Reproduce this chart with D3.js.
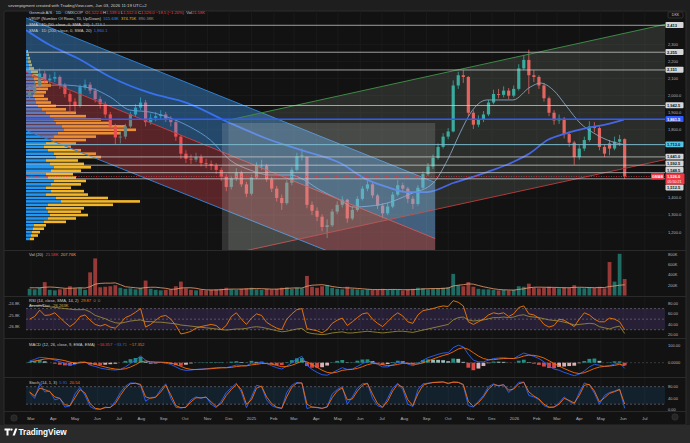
<!DOCTYPE html>
<html>
<head>
<meta charset="utf-8">
<script src="https://cdn.jsdelivr.net/npm/d3@7"></script>
<style>
  body { margin: 0; background: #1e1e1e; }
  svg { display: block; font-family: "Liberation Sans", Arial, sans-serif; }
  text { white-space: pre; }
</style>
</head>
<body>
<div id="chart"></div>
<script>
// weekly bars, Monday 2024-02-26 .. Monday 2026-06-01 (119 weeks)
const weeks = d3.utcMonday.range(new Date(Date.UTC(2024, 1, 26)), new Date(Date.UTC(2026, 5, 2)));

const opens = [2000,2020,2060,2130,2090,2100,2110,2060,2010,1965,
  1940,2050,2065,2030,1980,1950,1890,1820,1755,1760,
  1820,1890,1930,1960,1845,1870,1880,1890,1865,1845,
  1760,1660,1630,1625,1640,1605,1600,1590,1565,1525,
  1465,1515,1550,1480,1425,1520,1590,1590,1510,1455,
  1400,1370,1490,1565,1645,1640,1360,1325,1290,1230,
  1240,1320,1360,1390,1280,1330,1395,1455,1480,1415,
  1355,1310,1350,1420,1475,1455,1395,1365,1460,1540,
  1585,1635,1700,1760,1790,2060,2120,2110,1900,1830,
  1860,1890,1960,2010,2005,2030,2000,2040,2160,2210,
  2120,2110,2060,1985,1900,1855,1865,1775,1725,1640,
  1690,1740,1820,1810,1700,1720,1690,1730,1745];
const highs = [2060,2090,2160,2145,2125,2140,2120,2075,2025,1985,
  2065,2095,2080,2045,1995,1965,1905,1835,1790,1835,
  1905,1950,1990,1975,1895,1905,1915,1905,1880,1855,
  1770,1680,1655,1665,1655,1630,1620,1605,1580,1540,
  1530,1575,1560,1495,1535,1610,1625,1600,1525,1470,
  1420,1505,1580,1665,1690,1645,1380,1345,1305,1275,
  1335,1380,1410,1395,1350,1410,1470,1500,1490,1425,
  1370,1370,1435,1505,1490,1465,1410,1475,1555,1605,
  1655,1720,1780,1810,2090,2140,2150,2115,1915,1885,
  1910,1975,2035,2040,2055,2045,2060,2185,2240,2270,
  2150,2120,2075,1995,1915,1890,1875,1790,1735,1710,
  1760,1850,1845,1820,1715,1740,1760,1770,1750];
const lows = [1975,2005,2045,2070,2065,2080,2040,1990,1900,1910,
  1930,2035,2010,1960,1925,1870,1800,1715,1720,1745,
  1810,1875,1915,1820,1830,1850,1860,1845,1820,1735,
  1630,1605,1600,1610,1585,1575,1565,1540,1500,1440,
  1450,1500,1465,1405,1415,1510,1565,1495,1435,1380,
  1330,1360,1475,1555,1620,1340,1300,1265,1205,1165,
  1230,1305,1345,1255,1270,1320,1385,1440,1400,1335,
  1285,1300,1340,1410,1435,1370,1335,1355,1450,1530,
  1570,1625,1690,1745,1785,2040,2075,1880,1805,1815,
  1845,1880,1950,1985,1990,1980,1990,2030,2150,2010,
  2080,2040,1965,1880,1830,1835,1750,1700,1595,1625,
  1675,1730,1785,1680,1640,1650,1680,1705,1512];
const closes = [2020,2060,2130,2090,2100,2110,2060,2010,1965,1940,
  2050,2065,2030,1980,1950,1890,1820,1755,1760,1820,
  1890,1930,1960,1845,1870,1880,1890,1865,1845,1760,
  1660,1630,1625,1640,1605,1600,1590,1565,1525,1465,
  1515,1550,1480,1425,1520,1590,1590,1510,1455,1400,
  1370,1490,1565,1645,1650,1360,1325,1290,1230,1240,
  1320,1360,1390,1280,1330,1395,1455,1480,1415,1355,
  1310,1350,1420,1475,1455,1395,1365,1460,1540,1585,
  1635,1700,1760,1790,2060,2120,2110,1900,1830,1860,
  1890,1960,2010,2005,2030,2000,2040,2160,2210,2120,
  2110,2060,1985,1900,1855,1865,1775,1725,1640,1690,
  1740,1820,1810,1700,1660,1690,1730,1745,1526];

// volume in K
const volumes = [130,120,150,260,110,100,120,130,180,140,
  150,110,450,720,160,170,180,200,150,130,
  140,120,150,290,130,110,100,110,120,180,
  270,140,110,100,110,100,110,120,130,150,
  120,110,130,140,150,120,110,130,120,130,
  150,160,130,150,140,380,170,150,180,200,
  150,130,120,170,130,120,110,120,110,120,
  130,110,120,110,100,120,130,150,140,120,
  130,140,150,160,420,200,180,260,170,130,
  120,120,110,100,110,100,110,180,170,230,
  150,140,150,170,150,140,160,150,200,150,
  140,160,150,170,140,650,270,810,320];
const volMA = [150,150,150,160,165,160,150,140,140,145,
  150,145,170,220,235,240,240,245,210,170,
  160,150,140,155,160,160,150,140,120,125,
  145,150,150,140,120,110,108,108,112,120,
  125,125,125,128,132,135,132,128,124,124,
  130,138,145,148,145,180,200,205,210,195,
  175,160,150,148,145,138,130,122,116,115,
  115,116,118,117,114,112,115,120,128,132,
  135,135,138,145,185,200,210,225,220,195,
  170,150,130,118,110,108,105,118,130,150,
  160,162,160,158,158,155,150,152,158,160,
  158,155,152,155,155,175,185,200,208];

const rsi = [50,55,67,57,58,62,53,44,36,43,
  55,58,48,40,37,40,35,33,42,53,
  57,63,70,35,40,48,55,57,50,38,
  22,24,27,33,36,38,40,38,30,38,
  55,62,50,40,52,60,57,44,38,33,
  30,50,60,68,70,32,30,28,24,30,
  42,48,52,38,45,53,60,62,50,42,
  36,45,55,62,56,45,42,58,66,68,
  70,73,75,74,85,82,75,45,40,45,
  50,58,62,60,62,55,60,72,75,60,
  58,52,40,35,38,50,48,42,36,50,
  62,58,50,45,45,52,50,45,29.87];
// Accum/Dist in K (left scale)
const accDist = [-24.9,-24.95,-24.9,-25.0,-25.05,-25.1,-25.15,-25.2,-25.25,-25.3,
  -25.3,-25.3,-25.5,-25.8,-25.95,-26.1,-26.3,-26.45,-26.5,-26.4,
  -26.3,-26.25,-26.2,-26.35,-26.35,-26.4,-26.4,-26.45,-26.5,-26.55,
  -26.65,-26.7,-26.75,-26.8,-26.85,-26.9,-26.95,-27.0,-27.05,-27.1,
  -27.05,-27.0,-27.0,-26.95,-26.85,-26.8,-26.85,-26.95,-27.05,-27.15,
  -27.25,-27.2,-27.1,-27.0,-26.95,-27.3,-27.4,-27.45,-27.5,-27.45,
  -27.35,-27.3,-27.25,-27.35,-27.35,-27.3,-27.25,-27.2,-27.25,-27.3,
  -27.35,-27.3,-27.25,-27.2,-27.2,-27.25,-27.3,-27.2,-27.1,-27.0,
  -26.9,-26.8,-26.7,-26.6,-26.2,-26.0,-25.95,-26.2,-26.3,-26.25,
  -26.2,-26.1,-26.0,-26.0,-25.95,-26.0,-25.95,-25.8,-25.75,-25.9,
  -25.95,-26.0,-26.1,-26.2,-26.25,-26.3,-26.4,-26.5,-26.65,-26.6,
  -26.55,-26.5,-26.55,-26.8,-26.9,-27.0,-26.85,-26.75,-27.4];

const macd = [10,20,32,30,24,16,6,-4,-14,-10,
  4,5,-15,-22,-32,-38,-42,-44,-40,-25,
  -5,16,40,15,-2,0,2,-2,-10,-25,
  -40,-46,-44,-40,-38,-36,-33,-30,-28,-30,
  -22,-14,-16,-18,-2,-5,2,-5,-18,-30,
  -38,-20,0,22,38,-15,-40,-58,-72,-75,
  -60,-45,-30,-40,-38,-22,-5,8,5,-10,
  -25,-25,-12,2,5,-8,-18,-5,15,30,
  40,50,58,60,90,105,95,50,15,5,
  5,15,25,28,30,25,25,42,58,48,
  38,25,5,-20,-38,-45,-58,-68,-78,-68,
  -50,-25,-10,-15,-22,-18,-8,-2,-33.71];
const signal = [5,10,16,22,24,22,18,12,4,-2,
  -1,2,-3,-10,-18,-26,-33,-38,-40,-36,
  -26,-12,5,10,6,4,3,2,-2,-10,
  -22,-34,-40,-41,-40,-38,-36,-33,-31,-30,
  -28,-23,-20,-19,-13,-10,-5,-5,-9,-16,
  -24,-23,-15,-4,10,5,-10,-28,-45,-58,
  -62,-56,-46,-42,-40,-34,-24,-12,-5,-6,
  -12,-17,-16,-10,-4,-4,-8,-8,-1,10,
  22,33,43,51,65,82,90,80,60,40,
  25,18,18,22,25,26,25,30,40,45,
  44,38,28,12,-5,-20,-35,-48,-60,-65,
  -60,-48,-35,-26,-22,-20,-16,-10,-17.35];

const stochK = [60,40,90,62,65,35,40,10,14,55,
  78,50,12,3,2,10,8,30,60,82,
  93,92,85,30,43,44,70,90,40,9,
  7,10,35,45,40,45,20,8,30,60,
  76,92,62,8,45,85,80,35,15,8,
  5,60,85,95,92,5,10,8,5,12,
  55,70,80,20,45,75,90,92,40,15,
  8,40,75,92,70,20,12,70,90,92,
  95,96,97,90,97,95,85,15,10,30,
  50,80,90,82,88,60,75,95,96,50,
  45,35,15,8,10,25,45,30,20,60,
  93,86,58,20,50,60,65,72,5.91];
const stochD = [62,48,75,70,63,45,40,18,15,42,
  70,58,22,6,3,8,9,22,50,75,
  90,92,88,45,40,44,62,85,52,15,
  8,9,28,42,42,44,28,12,22,50,
  70,88,70,20,35,75,82,45,22,10,
  6,45,78,92,93,20,10,9,6,10,
  42,65,76,35,38,65,85,91,55,22,
  10,30,65,88,78,35,15,55,85,91,
  94,95,96,92,95,95,88,30,12,25,
  45,72,87,84,86,68,72,90,95,62,
  48,38,20,10,10,20,40,33,24,50,
  85,88,65,28,42,57,63,70,20.54];

// moving averages read at dates
const sma50Dates = ["2024-02-23","2024-04-10","2024-05-22","2024-06-19","2024-07-16","2024-08-13","2024-09-10",
  "2024-10-08","2024-11-05","2024-12-02","2024-12-30","2025-01-27","2025-02-24","2025-03-10","2025-04-06",
  "2025-05-04","2025-05-22","2025-06-15","2025-07-08","2025-08-09","2025-09-10","2025-09-30","2025-10-18",
  "2025-11-01","2025-11-24","2025-12-30","2026-01-23","2026-02-06","2026-02-24","2026-03-15","2026-04-02",
  "2026-04-21","2026-05-10","2026-06-02"];
const sma50 = [2045,2063,2045,1992,1916,1904,1869,1816,1740,1623,1564,1535,1535,1517,1447,
  1388,1347,1353,1370,1423,1487,1622,1786,1898,1975,1975,2051,2074,2033,1934,1840,1781,1740,1713];
const sma200Dates = ["2024-02-23","2024-03-27","2024-05-04","2024-06-19","2024-08-13","2024-10-04","2024-12-02",
  "2025-01-20","2025-03-10","2025-05-04","2025-06-11","2025-07-08","2025-08-05","2025-09-02","2025-10-08",
  "2025-11-24","2025-12-30","2026-01-23","2026-02-16","2026-03-15","2026-04-12","2026-05-10","2026-06-02"];
const sma200 = [2385,2297,2221,2110,2016,1957,1840,1752,1682,1605,1506,1465,1435,1435,1488,
  1552,1611,1664,1740,1781,1811,1834,1860];

// volume profile: 20 DKK rows from 1150, up / down volume (K)
const profUp = [40,50,60,70,80,180,220,240,220,200,220,350,300,200,250,200,250,280,220,200,
  250,280,240,200,300,280,220,180,200,250,280,320,380,360,300,280,240,200,160,120,
  100,90,70,80,90,100,90,80,60,50,30,30,20,20,10,10];
const profDown = [40,70,80,110,120,220,280,380,330,380,650,790,520,420,330,250,300,320,280,270,
  300,370,340,320,450,420,330,270,300,350,420,630,720,640,550,470,360,300,240,180,
  150,130,110,120,130,150,130,120,90,70,50,30,30,20,20,10];

// horizontal levels
const levels = [2413, 2255, 2151, 1942.5, 1861.5, 1713, 1641, 1592.5, 1548.5, 1512.5];
const lastPrice = 1526;

// channels [date, price]
const blueTop = [["2024-02-23", 2456], ["2025-09-13", 1491]];
const redEdge = [["2024-02-23", 2138], ["2025-09-13", 1162]];
const blueBottom = [["2024-02-23", 1796], ["2025-09-13", 837]];
const greenTop = [["2024-11-30", 1857], ["2026-07-29", 2418]];
const greenBottom = [["2024-11-30", 1069], ["2026-07-29", 1625]];
const boxDates = ["2024-11-21", "2025-09-13"];
const boxPrices = [1840, 1000];

const priceTicks = [2300, 2200, 2100, 2000, 1900, 1800, 1400, 1300, 1200];

// ---------- layout ----------
const W = 690, H = 443;
const plotL = 26, plotR = 665;
const pane = {price: [11, 250], vol: [251, 296], rsi: [297, 338], macd: [339, 377], stoch: [378, 411]};

const svg = d3.select("#chart").append("svg").attr("width", W).attr("height", H);
const parse = d3.utcParse("%Y-%m-%d");

svg.append("rect").attr("width", W).attr("height", H).attr("fill", "#1e1e1e");
svg.append("rect").attr("y", 425).attr("width", W).attr("height", H - 425).attr("fill", "#2a2a2a");
svg.append("rect").attr("x", 4).attr("y", 11).attr("width", 682).attr("height", 414)
  .attr("fill", "#121212").attr("stroke", "#2c2c2c").attr("rx", 2);

svg.append("text").attr("x", 8).attr("y", 7).attr("font-size", 4.3).attr("fill", "#cfcfcf")
  .text("sevenpigment created with TradingView.com, Jun 03, 2026 11:19 UTC+2");

const x = d3.scaleUtc()
  .domain([new Date(Date.UTC(2024, 1, 23)), new Date(Date.UTC(2026, 6, 29))])
  .range([plotL, plotR]);
const xMid = i => x(d3.utcDay.offset(weeks[i], 2));

const yPrice = d3.scaleLinear().domain([1200, 2300]).range([232.1, 44.55]);
const yVol = d3.scaleLinear().domain([0, 800]).range([295.5, 254.3]);
const yRsi = d3.scaleLinear().domain([20, 80]).range([335, 303.3]);
const yAD = d3.scaleLinear().domain([-26.8, -24.8]).range([326.7, 304]);
const yMacd = d3.scaleLinear().domain([0, 100]).range([362.7, 346]);
const yStoch = d3.scaleLinear().domain([0, 80]).range([410, 386.7]);

// clips
const defs = svg.append("defs");
Object.entries(pane).forEach(([k, [t, b]]) => {
  defs.append("clipPath").attr("id", "clip-" + k).append("rect")
    .attr("x", plotL).attr("y", t).attr("width", plotR - plotL).attr("height", b - t);
});
const layer = k => svg.append("g").attr("clip-path", `url(#clip-${k})`);

// grid
const months = d3.utcMonth.range(new Date(Date.UTC(2024, 2, 1)), new Date(Date.UTC(2026, 6, 2)));
const grid = svg.append("g").attr("stroke", "#1a1a1a").attr("stroke-width", 1);
months.forEach(m => grid.append("line").attr("x1", x(m)).attr("x2", x(m)).attr("y1", 11).attr("y2", 411));
priceTicks.forEach(p => grid.append("line").attr("x1", plotL).attr("x2", plotR)
  .attr("y1", yPrice(p)).attr("y2", yPrice(p)));

// pane separators
[250.5, 296.5, 338.5, 377.5, 411.5].forEach(y => svg.append("line")
  .attr("x1", 4).attr("x2", 686).attr("y1", y).attr("y2", y).attr("stroke", "#2a2a2a"));

// ---------- price pane ----------
const gP = layer("price");

// volume profile
const xProf = d3.scaleLinear().domain([0, 1140]).range([0, 114]);
profUp.forEach((u, b) => {
  const pLow = 1150 + 20 * b;
  const yTop = yPrice(pLow + 20) + 0.4, h = yPrice(pLow) - yPrice(pLow + 20) - 0.8;
  gP.append("rect").attr("x", plotL).attr("y", yTop).attr("width", xProf(u)).attr("height", h).attr("fill", "#2196f3");
  gP.append("rect").attr("x", plotL + xProf(u)).attr("y", yTop).attr("width", xProf(profDown[b])).attr("height", h).attr("fill", "#f2b62a");
});

// candles
const up = i => closes[i] >= opens[i];
d3.range(weeks.length).forEach(i => {
  const c = up(i) ? "#26a69a" : "#ef5350";
  const cx = xMid(i);
  gP.append("line").attr("x1", cx).attr("x2", cx).attr("y1", yPrice(highs[i])).attr("y2", yPrice(lows[i]))
    .attr("stroke", c).attr("stroke-width", 0.8);
  const y0 = yPrice(Math.max(opens[i], closes[i])), y1 = yPrice(Math.min(opens[i], closes[i]));
  gP.append("rect").attr("x", cx - 1.6).attr("width", 3.2).attr("y", y0).attr("height", Math.max(0.8, y1 - y0)).attr("fill", c);
});

// moving averages
const maLine = d3.line().curve(d3.curveMonotoneX).x(d => x(parse(d[0]))).y(d => yPrice(d[1]));
gP.append("path").attr("d", maLine(d3.zip(sma50Dates, sma50)))
  .attr("fill", "none").attr("stroke", "#7d9cc4").attr("stroke-width", 0.9);
gP.append("path").attr("d", maLine(d3.zip(sma200Dates, sma200)))
  .attr("fill", "none").attr("stroke", "#3355ee").attr("stroke-width", 1.8);

// channels (drawings on top)
const pt = d => [x(parse(d[0])), yPrice(d[1])];
function band(top, bottom, fill) {
  const pts = [pt(top[0]), pt(top[1]), pt(bottom[1]), pt(bottom[0])];
  gP.append("path").attr("d", "M" + pts.join("L") + "Z").attr("fill", fill);
}
function edge(seg, color) {
  const [a, b] = seg.map(pt);
  gP.append("line").attr("x1", a[0]).attr("y1", a[1]).attr("x2", b[0]).attr("y2", b[1])
    .attr("stroke", color).attr("stroke-width", 1);
}
band(blueTop, redEdge, "rgba(63,155,240,0.4)");
band(redEdge, blueBottom, "rgba(224,72,81,0.35)");
edge(blueTop, "#2f7fd0");
edge(redEdge, "#c04048");
edge(blueBottom, "#2f7fd0");
band(greenTop, greenBottom, "rgba(178,198,178,0.15)");
edge(greenTop, "#3d8a45");
edge(greenBottom, "#b03a3a");
gP.append("rect")
  .attr("x", x(parse(boxDates[0]))).attr("width", x(parse(boxDates[1])) - x(parse(boxDates[0])))
  .attr("y", yPrice(boxPrices[0])).attr("height", yPrice(boxPrices[1]) - yPrice(boxPrices[0]))
  .attr("fill", "rgba(218,218,218,0.17)");

// levels
const levelStyle = v => v === 1861.5 ? {line: "#2f5cff", w: 1.6, box: "#2f5cff", txt: "#ffffff"}
  : v === 1713 ? {line: "#7ab8cc", w: 1, box: "#56c4e0", txt: "#101010"}
  : {line: "rgba(205,205,205,0.75)", w: 1, box: "#d6d6d6", txt: "#101010"};
levels.forEach(v => {
  const s = levelStyle(v);
  gP.append("line").attr("x1", plotL).attr("x2", plotR).attr("y1", yPrice(v)).attr("y2", yPrice(v))
    .attr("stroke", s.line).attr("stroke-width", s.w);
});
const lastY = yPrice(lastPrice);
gP.append("line").attr("x1", plotL).attr("x2", plotR).attr("y1", lastY).attr("y2", lastY)
  .attr("stroke", "#f23645").attr("stroke-width", 0.7).attr("stroke-dasharray", "1,1.5");

// ---------- right price axis ----------
const fmtPrice = v => v >= 2100 ? d3.format(",")(v) : d3.format(",.1f")(v);
const axisTxt = "#b2b5be";
priceTicks.forEach(p => svg.append("text").attr("x", 668).attr("y", yPrice(p) + 1.4)
  .attr("font-size", 4).attr("fill", axisTxt).text(fmtPrice(p)));

const labelH = 6.4;
const lastTop = lastY - 3.2, lastBot = lastY + 8;
let limit = lastTop;
const placed = [];
levels.filter(v => v > lastPrice).sort((a, b) => a - b).forEach(v => {
  const cy = Math.min(yPrice(v), limit - labelH / 2); placed.push([v, cy]); limit = cy - labelH / 2;
});
limit = lastBot;
levels.filter(v => v < lastPrice).sort((a, b) => b - a).forEach(v => {
  const cy = Math.max(yPrice(v), limit + labelH / 2); placed.push([v, cy]); limit = cy + labelH / 2;
});
placed.forEach(([v, cy]) => {
  const s = levelStyle(v);
  svg.append("rect").attr("x", 665.5).attr("y", cy - labelH / 2).attr("width", 18).attr("height", labelH - 0.5)
    .attr("fill", s.box).attr("rx", 0.8);
  const t = v >= 2100 ? d3.format(",")(v) : d3.format(",.1f")(v);
  svg.append("text").attr("x", 667).attr("y", cy + 1.4).attr("font-size", 4).attr("font-weight", "bold")
    .attr("fill", s.txt).text(t);
});
// last price tag
svg.append("rect").attr("x", 651).attr("y", lastY - 3.2).attr("width", 13).attr("height", 6.2).attr("fill", "#f23645").attr("rx", 0.8);
svg.append("text").attr("x", 657.5).attr("y", lastY + 1.2).attr("text-anchor", "middle").attr("font-size", 3.6)
  .attr("font-weight", "bold").attr("fill", "#fff").text("GMAB");
svg.append("rect").attr("x", 665.5).attr("y", lastTop).attr("width", 19).attr("height", lastBot - lastTop).attr("fill", "#f23645").attr("rx", 0.8);
svg.append("text").attr("x", 667).attr("y", lastY + 1.4).attr("font-size", 4).attr("font-weight", "bold").attr("fill", "#fff").text("1,526.0");
svg.append("text").attr("x", 667.5).attr("y", lastY + 6.4).attr("font-size", 3.6).attr("fill", "#fff").text("05:50:21");

svg.append("rect").attr("x", 668).attr("y", 12).attr("width", 15).attr("height", 6).attr("fill", "none")
  .attr("stroke", "#444").attr("stroke-width", 0.6).attr("rx", 1);
svg.append("text").attr("x", 675.5).attr("y", 16.3).attr("text-anchor", "middle").attr("font-size", 3.6)
  .attr("fill", "#cfcfcf").text("DKK");

// ---------- legends ----------
function legend(y, parts) {
  const t = svg.append("text").attr("x", 29).attr("y", y).attr("font-size", 4.1);
  parts.forEach(([s, c]) => t.append("tspan").attr("fill", c).text(s));
}
const lg = "#c9ccd4";
legend(14, [["Genmab A/S · 1D · OMXCOP  ", lg], ["O", lg], ["1,522.0 ", "#f23645"], ["H", lg], ["1,539.0 ", "#f23645"],
  ["L", lg], ["1,512.0 ", "#f23645"], ["C", lg], ["1,526.0 −18.5 (−1.20%)  ", "#f23645"], ["Vol", lg], ["21.58K", "#f23645"]]);
legend(20, [["VRVP (Number Of Rows, 70, Up/Down)  ", lg], ["515.63K  ", "#2196f3"], ["374.75K  ", "#f2b62a"], ["890.38K", "#8a8a8a"]]);
legend(26, [["SMA · 1D (50, close, 0, SMA, 20)  ", lg], ["1,713.1", "#7fb3e6"]]);
legend(32, [["SMA · 1D (200, close, 0, SMA, 20)  ", lg], ["1,860.1", "#3d6bff"]]);

// ---------- volume pane ----------
const gV = layer("vol");
d3.range(weeks.length).forEach(i => {
  gV.append("rect").attr("x", xMid(i) - 1.9).attr("width", 3.8)
    .attr("y", yVol(volumes[i])).attr("height", yVol(0) - yVol(volumes[i]))
    .attr("fill", up(i) ? "rgba(38,166,154,0.6)" : "rgba(239,83,80,0.6)");
});
const wLine = (scale, arr) => d3.line().x((d, i) => xMid(i)).y(d => scale(d))(arr);
gV.append("path").attr("d", wLine(yVol, volMA)).attr("fill", "none").attr("stroke", "#f0a070").attr("stroke-width", 0.8);
["800K", "600K", "400K", "200K"].forEach((s, k) => svg.append("text").attr("x", 668)
  .attr("y", yVol(800 - 200 * k) + 1.4).attr("font-size", 4).attr("fill", axisTxt).text(s));
legend(255.5, [["Vol (20)  ", lg], ["21.58K  ", "#f23645"], ["207.76K", "#f0a070"]]);

// ---------- RSI pane ----------
const gR = layer("rsi");
gR.append("rect").attr("x", plotL).attr("width", plotR - plotL).attr("y", yRsi(70)).attr("height", yRsi(30) - yRsi(70))
  .attr("fill", "rgba(126,87,194,0.2)");
[70, 50, 30].forEach(v => gR.append("line").attr("x1", plotL).attr("x2", plotR).attr("y1", yRsi(v)).attr("y2", yRsi(v))
  .attr("stroke", "#787b86").attr("stroke-width", 0.6).attr("stroke-dasharray", "2,2"));
gR.append("path").attr("d", wLine(yAD, accDist)).attr("fill", "none").attr("stroke", "#a39440").attr("stroke-width", 0.8);
gR.append("path").attr("d", wLine(yRsi, rsi)).attr("fill", "none").attr("stroke", "#f57c00").attr("stroke-width", 0.9);
[80, 60, 40, 20].forEach(v => svg.append("text").attr("x", 668).attr("y", yRsi(v) + 1.4)
  .attr("font-size", 4).attr("fill", axisTxt).text(d3.format(".2f")(v)));
[-24.8, -25.8, -26.8].forEach(v => svg.append("text").attr("x", 8).attr("y", yAD(v) + 1.4)
  .attr("font-size", 4).attr("fill", axisTxt).text(v + "K"));
legend(301.5, [["RSI (14, close, SMA, 14, 2)  ", lg], ["29.87  ", "#f57c00"], ["0  0", "#8a8a8a"]]);
legend(307, [["Accum/Dist  ", lg], ["-26.263K", "#c8b450"]]);

// ---------- MACD pane ----------
const gM = layer("macd");
gM.append("line").attr("x1", plotL).attr("x2", plotR).attr("y1", yMacd(0)).attr("y2", yMacd(0))
  .attr("stroke", "#555").attr("stroke-width", 0.6).attr("stroke-dasharray", "2,2");
const hist = macd.map((m, i) => m - signal[i]);
hist.forEach((h, i) => {
  const prev = i ? hist[i - 1] : 0;
  const c = h >= 0 ? (h >= prev ? "#26a69a" : "#b2dfdb") : (h <= prev ? "#ff5252" : "#ffcdd2");
  gM.append("rect").attr("x", xMid(i) - 1.9).attr("width", 3.8)
    .attr("y", Math.min(yMacd(h), yMacd(0))).attr("height", Math.abs(yMacd(h) - yMacd(0)))
    .attr("fill", c).attr("opacity", 0.85);
});
gM.append("path").attr("d", wLine(yMacd, macd)).attr("fill", "none").attr("stroke", "#2962ff").attr("stroke-width", 0.9);
gM.append("path").attr("d", wLine(yMacd, signal)).attr("fill", "none").attr("stroke", "#ff6d00").attr("stroke-width", 0.9);
svg.append("text").attr("x", 668).attr("y", yMacd(100) + 1.4).attr("font-size", 4).attr("fill", axisTxt).text("100.00");
svg.append("text").attr("x", 668).attr("y", yMacd(0) + 1.4).attr("font-size", 4).attr("fill", axisTxt).text("0.0000");
legend(345.5, [["MACD (12, 26, close, 9, EMA, EMA)  ", lg], ["−16.357  ", "#f23645"], ["−33.71  ", "#2962ff"], ["−17.352", "#ff6d00"]]);

// ---------- Stoch pane ----------
const gS = layer("stoch");
gS.append("rect").attr("x", plotL).attr("width", plotR - plotL).attr("y", yStoch(80)).attr("height", yStoch(20) - yStoch(80))
  .attr("fill", "rgba(33,150,243,0.12)");
[80, 20].forEach(v => gS.append("line").attr("x1", plotL).attr("x2", plotR).attr("y1", yStoch(v)).attr("y2", yStoch(v))
  .attr("stroke", "#787b86").attr("stroke-width", 0.6).attr("stroke-dasharray", "2,2"));
gS.append("path").attr("d", wLine(yStoch, stochK)).attr("fill", "none").attr("stroke", "#2962ff").attr("stroke-width", 0.9);
gS.append("path").attr("d", wLine(yStoch, stochD)).attr("fill", "none").attr("stroke", "#ff6d00").attr("stroke-width", 0.9);
[80, 40, 0].forEach(v => svg.append("text").attr("x", 668).attr("y", yStoch(v) + 1.4)
  .attr("font-size", 4).attr("fill", axisTxt).text(d3.format(".2f")(v)));
legend(383.5, [["Stoch (14, 1, 3)  ", lg], ["5.91  ", "#2962ff"], ["20.54", "#ff6d00"]]);

// ---------- time axis ----------
const fmtMonth = d3.utcFormat("%b"), fmtYear = d3.utcFormat("%Y");
months.forEach(m => svg.append("text").attr("x", x(m)).attr("y", 419.5).attr("text-anchor", "middle")
  .attr("font-size", 4.3).attr("fill", axisTxt).text(m.getUTCMonth() === 0 ? fmtYear(m) : fmtMonth(m)));

// small icons
[[14, 418], [675, 417]].forEach(([cx, cy]) => svg.append("circle").attr("cx", cx).attr("cy", cy).attr("r", 3.2)
  .attr("fill", "#262626").attr("stroke", "#3a3a3a").attr("stroke-width", 0.6));

// TradingView logo
const logo = svg.append("g").attr("fill", "#ffffff");
logo.append("path").attr("d", "M4.5 428.5h6v2h-2v5h-2v-5h-2z");
logo.append("circle").attr("cx", 11.6).attr("cy", 429.6).attr("r", 1.1);
logo.append("path").attr("d", "M12.6 435.5l2.6-7h2.2l-2.6 7z");
svg.append("text").attr("x", 18.5).attr("y", 435.3).attr("font-size", 8.2).attr("font-weight", "bold")
  .attr("fill", "#ffffff").text("TradingView");
</script>
</body>
</html>
